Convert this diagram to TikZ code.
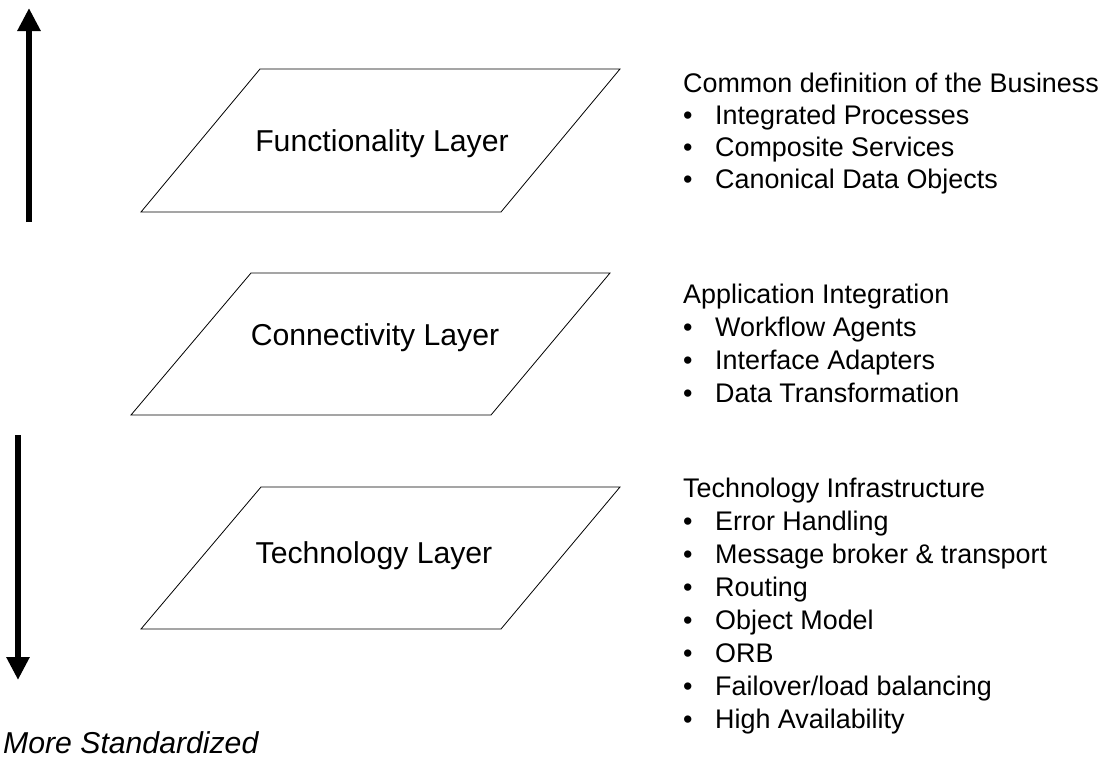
\documentclass[tikz,border=0pt]{standalone}
\usepackage{fontspec}
\setmainfont{Liberation Sans}
\usetikzlibrary{arrows.meta}

\begin{document}
\begin{tikzpicture}[x=1pt,y=-1pt,
    layer/.style={draw=black, line width=0.8pt, line join=miter},
    layerlabel/.style={anchor=base, inner sep=0pt, font=\fontsize{30.2}{36}\selectfont},
    note/.style={anchor=base west, inner sep=0pt, font=\fontsize{26.9}{33}\selectfont},
    bigarrow/.style={line width=6pt, -{Triangle[length=23pt,width=22pt]}}]
  \useasboundingbox (0,0) rectangle (1104,758);
  \newcommand{\blt}{\makebox[32pt][l]{\textbullet}}

  % layer planes
  \draw[layer] (141,212) -- (260,69) -- (620,69) -- (501,212) -- cycle;
  \draw[layer] (131,415) -- (251,273) -- (610,273) -- (491,415) -- cycle;
  \draw[layer] (141,629) -- (261,487) -- (620,487) -- (501,629) -- cycle;

  \node[layerlabel] (func) at (382,151) {Functionality Layer};
  \node[layerlabel] (conn) at (375,345) {Connectivity Layer};
  \node[layerlabel] (tech) at (374,563) {Technology Layer};

  % direction arrows
  \coordinate (upfrom) at (29,222);
  \coordinate (upto) at (29,8);
  \coordinate (downfrom) at (18,435);
  \coordinate (downto) at (18,680);
  \draw[bigarrow] (upfrom) -- (upto);
  \draw[bigarrow] (downfrom) -- (downto);

  \node[anchor=base west, inner sep=0pt, font=\fontsize{30.2}{36}\selectfont\itshape]
    (std) at (3,753) {More Standardized};

  % descriptions
  \node[note] (funchead) at (683,92) {Common definition of the Business};
  \foreach \t [count=\i] in {Integrated Processes, Composite Services, Canonical Data Objects}
    \node[note] (funcitem\i) at (683,92+32*\i) {\blt\t};

  \node[note] (connhead) at (683,303) {Application Integration};
  \foreach \t [count=\i] in {Workflow Agents, Interface Adapters, Data Transformation}
    \node[note] (connitem\i) at (683,303+33*\i) {\blt\t};

  \node[note] (techhead) at (683,497) {Technology Infrastructure};
  \foreach \t [count=\i] in {Error Handling, Message broker \& transport, Routing,
      Object Model, ORB, Failover/load balancing, High Availability}
    \node[note] (techitem\i) at (683,497+33*\i) {\blt\t};
\end{tikzpicture}
\end{document}
